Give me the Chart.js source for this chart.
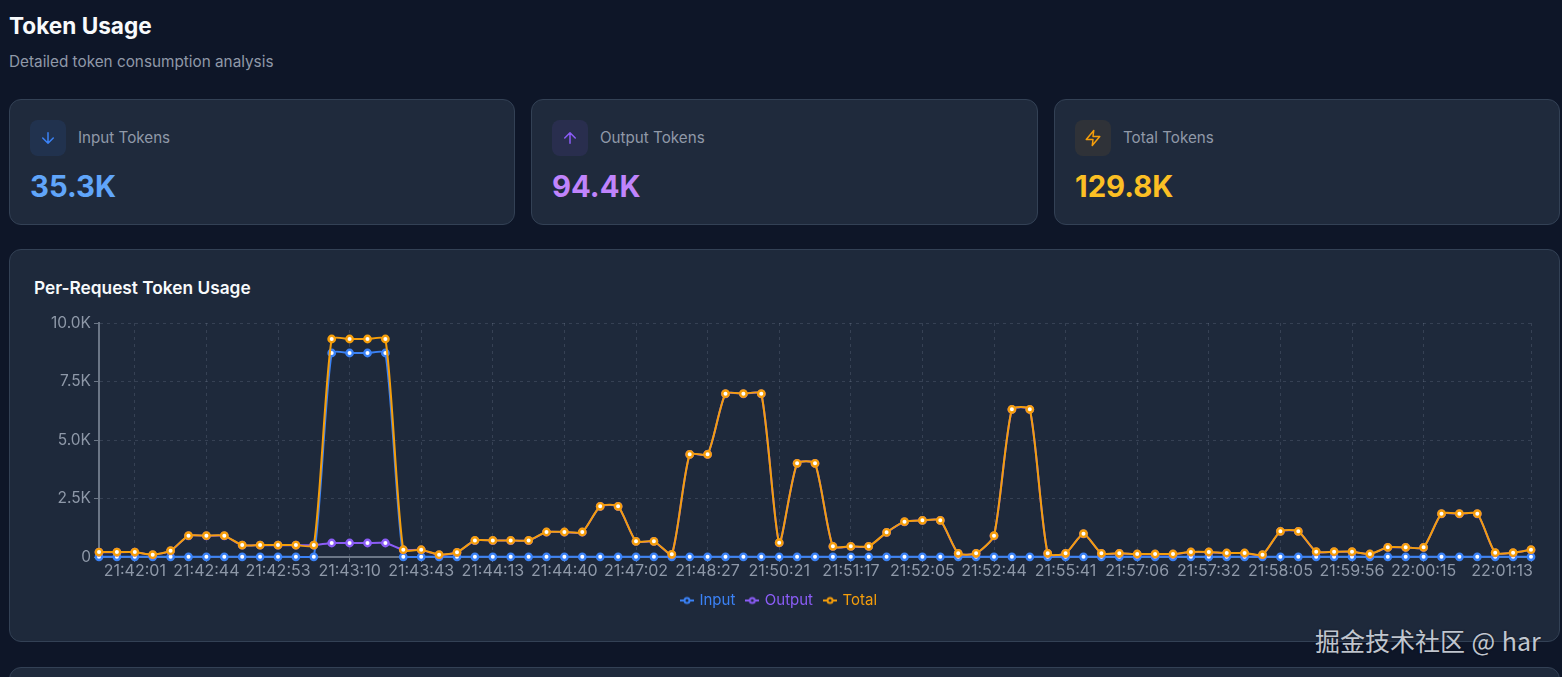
<!DOCTYPE html>
<html>
<head>
<meta charset="utf-8">
<title>Token Usage</title>
<script src="https://cdn.jsdelivr.net/npm/chart.js@4"></script>
<style>
* { box-sizing: border-box; }
html, body { margin: 0; height: 100%; overflow: hidden; }
body { width: 1562px; height: 677px; position: relative; background: #0e1628; font-family: Inter, sans-serif; }
h1 { position: absolute; left: 9px; top: 11px; margin: 0; font-size: 22.6px; line-height: 30px; font-weight: 700; color: #f8fafc; }
.sub { position: absolute; left: 9px; top: 52px; font-size: 15.3px; line-height: 20px; color: #9099a8; }
.card { position: absolute; background: #1f2a3c; border: 1px solid #334155; border-radius: 12px; }
.stat { top: 99px; height: 126px; }
.icon { position: absolute; left: 20px; top: 20px; width: 36px; height: 36px; border-radius: 8px; display: flex; align-items: center; justify-content: center; }
.icon svg { width: 18px; height: 18px; fill: none; stroke-width: 2; stroke-linecap: round; stroke-linejoin: round; }
.lbl { position: absolute; left: 68px; top: 27px; font-size: 15.2px; line-height: 22px; color: #9099a8; }
.val { position: absolute; left: 20px; top: 68px; font-size: 29.3px; line-height: 38px; font-weight: 700; }
.panel { left: 9px; top: 249px; width: 1551px; height: 393px; background: #1e293b; }
.panel h2 { position: absolute; left: 24px; top: 26px; margin: 0; font-size: 17.3px; line-height: 24px; font-weight: 600; color: #f8fafc; }
.next { left: 9px; top: 667px; width: 1551px; height: 60px; }
#chartBox { position: absolute; left: 28px; top: 310px; width: 1534px; height: 310px; }
.mark { position: absolute; left: 1315px; top: 625px; font-family: "Noto Sans CJK SC", sans-serif; font-size: 25px; line-height: 30px; word-spacing: 1px; color: rgba(226,232,240,0.85); text-shadow: 0 0 2px rgba(0,0,0,0.5); white-space: nowrap; }
</style>
</head>
<body>
<h1>Token Usage</h1>
<div class="sub">Detailed token consumption analysis</div>

<div class="card stat" style="left:9px;width:506px">
  <div class="icon" style="background:rgba(59,130,246,0.1)"><svg viewBox="0 0 24 24" stroke="#3b82f6"><path d="M12 5v14M19 12l-7 7-7-7"/></svg></div>
  <div class="lbl">Input Tokens</div>
  <div class="val" style="color:#60a5fa">35.3K</div>
</div>
<div class="card stat" style="left:531px;width:507px">
  <div class="icon" style="background:rgba(139,92,246,0.1)"><svg viewBox="0 0 24 24" stroke="#8b5cf6"><path d="M12 19V5M5 12l7-7 7 7"/></svg></div>
  <div class="lbl">Output Tokens</div>
  <div class="val" style="color:#c084fc">94.4K</div>
</div>
<div class="card stat" style="left:1054px;width:506px">
  <div class="icon" style="background:rgba(245,158,11,0.08)"><svg viewBox="0 0 24 24" stroke="#f59e0b"><path d="M13 2 3 14h9l-1 8 10-12h-9l1-8z"/></svg></div>
  <div class="lbl">Total Tokens</div>
  <div class="val" style="color:#fbbf24">129.8K</div>
</div>

<div class="card panel"><h2>Per-Request Token Usage</h2></div>
<div class="card next"></div>
<div id="chartBox"><canvas id="tokenChart"></canvas></div>
<div class="mark">掘金技术社区 @ har</div>

<script>
// only the labels that can be read on the axis, the others stay empty
const categories = [
  '', '', '21:42:01', '', '', '', '21:42:44', '', '', '', '21:42:53', '', '', '',
  '21:43:10', '', '', '', '21:43:43', '', '', '', '21:44:13', '', '', '', '21:44:40', '', '', '',
  '21:47:02', '', '', '', '21:48:27', '', '', '', '21:50:21', '', '', '', '21:51:17', '', '', '',
  '21:52:05', '', '', '', '21:52:44', '', '', '', '21:55:41', '', '', '', '21:57:06', '', '', '',
  '21:57:32', '', '', '', '21:58:05', '', '', '', '21:59:56', '', '', '', '22:00:15', '', '', '',
  '', '', '22:01:13'
];
const inputTokens = [
  6, 6, 6, 6, 6, 6, 6, 6, 6, 6,
  6, 6, 6, 8718, 8718, 8718, 8718, 6, 6, 6,
  6, 6, 6, 6, 6, 6, 6, 6, 6, 6,
  6, 6, 6, 6, 6, 6, 6, 6, 6, 6,
  6, 6, 6, 6, 6, 6, 6, 6, 6, 6,
  6, 6, 6, 6, 6, 6, 6, 6, 6, 6,
  6, 6, 6, 6, 6, 6, 6, 6, 6, 6,
  6, 6, 6, 6, 6, 6, 6, 6, 6, 6, 6
];
const outputTokens = [
  204, 204, 204, 94, 264, 904, 904, 904, 504, 504,
  504, 504, 504, 598, 598, 598, 598, 304, 304, 94,
  194, 704, 704, 704, 704, 1062, 1062, 1062, 2159, 2159,
  664, 664, 108, 4381, 4381, 6974, 6974, 6974, 606, 3997,
  3997, 450, 450, 450, 1048, 1504, 1561, 1561, 151, 151,
  906, 6304, 6304, 151, 151, 991, 151, 151, 122, 122,
  122, 208, 208, 165, 165, 94, 1091, 1091, 222, 222,
  222, 122, 407, 407, 407, 1846, 1846, 1846, 179, 179, 307
];
const totalTokens = [
  210, 210, 210, 100, 270, 910, 910, 910, 510, 510,
  510, 510, 510, 9316, 9316, 9316, 9316, 310, 310, 100,
  200, 710, 710, 710, 710, 1068, 1068, 1068, 2165, 2165,
  670, 670, 114, 4387, 4387, 6980, 6980, 6980, 612, 4003,
  4003, 456, 456, 456, 1054, 1510, 1567, 1567, 157, 157,
  912, 6310, 6310, 157, 157, 997, 157, 157, 128, 128,
  128, 214, 214, 171, 171, 100, 1097, 1097, 228, 228,
  228, 128, 413, 413, 413, 1852, 1852, 1852, 185, 185, 313
];
const yTicks = [0, 2500, 5000, 7500, 10000];

const inputColor = '#3b82f6';
const outputColor = '#8b5cf6';
const totalColor = '#f59e0b';
const axisColor = '#6b7686';
const gridColor = 'rgba(148,163,184,0.2)';
const textColor = '#8e98a8';

function series(label, data, color, order) {
  return {
    label: label,
    data: data,
    order: order,
    borderColor: color,
    borderWidth: 2,
    tension: 0.2,
    clip: false,
    pointRadius: 3.2,
    pointBorderWidth: 2.4,
    pointBorderColor: color,
    pointBackgroundColor: '#fff'
  };
}

// legend marker: short line with a small ring on it
function legendMark(color) {
  const c = document.createElement('canvas');
  c.width = 14;
  c.height = 10;
  const g = c.getContext('2d');
  g.strokeStyle = color;
  g.lineWidth = 2;
  g.beginPath();
  g.moveTo(0, 5);
  g.lineTo(14, 5);
  g.stroke();
  g.fillStyle = '#1e293b';
  g.beginPath();
  g.arc(7, 5, 2.5, 0, Math.PI * 2);
  g.fill();
  g.stroke();
  return c;
}

// last axis label sits inside the plot edge instead of centred on its tick
const lastLabelInside = {
  id: 'lastLabelInside',
  beforeDraw(chart) {
    const items = chart.scales.x.getLabelItems(chart.chartArea);
    const last = items[items.length - 1];
    if (last) {
      last.options.textAlign = 'right';
      last.options.translation[0] += 2;
    }
  }
};

new Chart(document.getElementById('tokenChart'), {
  type: 'line',
  data: {
    labels: categories,
    datasets: [
      series('Input', inputTokens, inputColor, 3),
      series('Output', outputTokens, outputColor, 2),
      series('Total', totalTokens, totalColor, 1)
    ]
  },
  plugins: [lastLabelInside],
  options: {
    responsive: true,
    maintainAspectRatio: false,
    animation: false,
    layout: { padding: { top: 13, right: 31, bottom: 2 } },
    plugins: {
      tooltip: { enabled: false },
      legend: {
        position: 'bottom',
        labels: {
          usePointStyle: true,
          pointStyleWidth: 10,
          padding: 12,
          font: { family: 'Inter', size: 15 },
          generateLabels(chart) {
            return chart.data.datasets.map((d, i) => ({
              text: d.label,
              fontColor: d.borderColor,
              pointStyle: legendMark(d.borderColor),
              lineWidth: 0,
              datasetIndex: i
            }));
          }
        }
      }
    },
    scales: {
      x: {
        offset: false,
        border: { color: axisColor, width: 2, dash: [3, 4] },
        grid: { color: gridColor, tickColor: axisColor, tickLength: 5 },
        ticks: { color: textColor, autoSkip: false, maxRotation: 0, padding: 0, font: { family: 'Inter', size: 16 } },
        afterBuildTicks(axis) {
          axis.ticks = axis.ticks.filter(t => categories[t.value] !== '');
        },
        afterFit(axis) {
          axis.paddingLeft = 0;
          axis.paddingRight = 0;
          axis.height = 24;
        }
      },
      y: {
        min: 0,
        max: 10000,
        border: { color: axisColor, width: 2, dash: [3, 4] },
        grid: { color: gridColor, tickColor: axisColor, tickLength: 5 },
        ticks: {
          color: textColor,
          padding: 3,
          font: { family: 'Inter', size: 15.5 },
          callback: v => v === 0 ? '0' : (v / 1000).toFixed(1) + 'K'
        },
        afterBuildTicks(axis) {
          axis.ticks = yTicks.map(v => ({ value: v }));
        },
        afterFit(axis) {
          axis.width = 71;
        }
      }
    }
  }
});
</script>
</body>
</html>
